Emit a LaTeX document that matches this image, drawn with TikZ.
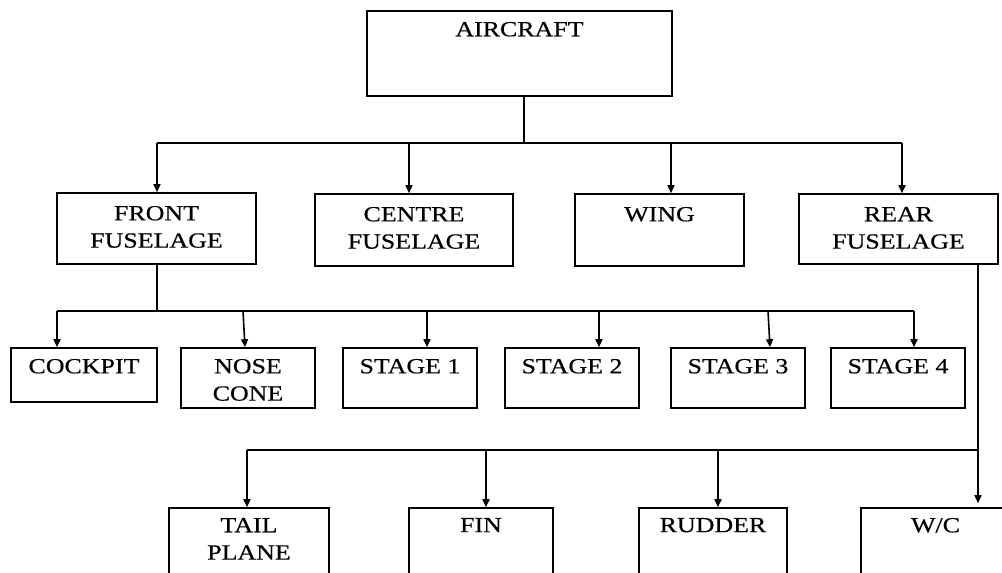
\documentclass[tikz,border=0pt]{standalone}
\usepackage{fontspec}
\setmainfont{Liberation Serif}[FakeStretch=1.2,FakeBold=0.5]
\usetikzlibrary{arrows.meta}
\begin{document}
\begin{tikzpicture}[x=1pt,y=-1pt,line width=1.6pt,
  box/.style={draw,rectangle,inner sep=0pt,line width=1.6pt},
  lbl/.style={anchor=north,inner sep=0pt,align=center,font=\fontsize{21.6}{27.3}\selectfont},
  arr/.style={-{Triangle[length=8pt,width=7pt]}}]
\useasboundingbox (0,0) rectangle (1002,573);
\clip (0,0) rectangle (1002,573);
\fill[white] (0,0) rectangle (1002,573);
% boxes
\node[box,minimum width=305pt,minimum height=85pt] (aircraft) at (519.5,53.5) {};
\node[box,minimum width=199pt,minimum height=71pt] (front) at (156.5,228.5) {};
\node[box,minimum width=198pt,minimum height=72pt] (centre) at (414,230) {};
\node[box,minimum width=169pt,minimum height=72pt] (wing) at (659.5,230) {};
\node[box,minimum width=199pt,minimum height=70pt] (rear) at (898.5,229) {};
\node[box,minimum width=146pt,minimum height=54pt] (cockpit) at (84,375) {};
\node[box,minimum width=134pt,minimum height=60pt] (nose) at (248,378) {};
\node[box,minimum width=134pt,minimum height=60pt] (s1) at (410,378) {};
\node[box,minimum width=134pt,minimum height=60pt] (s2) at (572,378) {};
\node[box,minimum width=134pt,minimum height=60pt] (s3) at (738,378) {};
\node[box,minimum width=134pt,minimum height=60pt] (s4) at (898,378) {};
\node[box,minimum width=160pt,minimum height=92pt] (tail) at (249,554) {};
\node[box,minimum width=144pt,minimum height=92pt] (fin) at (481,554) {};
\node[box,minimum width=148pt,minimum height=92pt] (rudder) at (713,554) {};
\node[box,minimum width=149pt,minimum height=92pt] (wc) at (935.5,554) {};
% labels
\node[lbl] (taircraft) at ([yshift=-11pt]aircraft.north) {AIRCRAFT};
\node[lbl] (tfront) at ([yshift=-13pt]front.north) {FRONT\\FUSELAGE};
\node[lbl] (tcentre) at ([yshift=-13pt]centre.north) {CENTRE\\FUSELAGE};
\node[lbl] (twing) at ([yshift=-13pt]wing.north) {WING};
\node[lbl] (trear) at ([yshift=-13pt]rear.north) {REAR\\FUSELAGE};
\node[lbl] (tcockpit) at ([yshift=-11pt]cockpit.north) {COCKPIT};
\node[lbl] (tnose) at ([yshift=-11pt]nose.north) {NOSE\\CONE};
\node[lbl] (ts1) at ([yshift=-11pt]s1.north) {STAGE 1};
\node[lbl] (ts2) at ([yshift=-11pt]s2.north) {STAGE 2};
\node[lbl] (ts3) at ([yshift=-11pt]s3.north) {STAGE 3};
\node[lbl] (ts4) at ([yshift=-11pt]s4.north) {STAGE 4};
\node[lbl] (ttail) at ([yshift=-10pt]tail.north) {TAIL\\PLANE};
\node[lbl] (tfin) at ([yshift=-10pt]fin.north) {FIN};
\node[lbl] (trudder) at ([yshift=-10pt]rudder.north) {RUDDER};
\node[lbl] (twc) at ([yshift=-10pt]wc.north) {W/C};
% level 1 connectors
\coordinate (j1) at (524,143);
\coordinate (a1) at (157,143);
\coordinate (a2) at (409,143);
\coordinate (a3) at (671,143);
\coordinate (a4) at (902,143);
\draw (aircraft.south -| j1) -- (j1);
\draw (a1) -- (a4);
\draw[arr] (a1) -- (a1 |- front.north);
\draw[arr] (a2) -- (a2 |- centre.north);
\draw[arr] (a3) -- (a3 |- wing.north);
\draw[arr] (a4) -- (a4 |- rear.north);
% level 2 connectors (front fuselage)
\coordinate (j2) at (157,311);
\coordinate (c1) at (57,311);
\coordinate (c2) at (243,311);
\coordinate (c3) at (427,311);
\coordinate (c4) at (599,311);
\coordinate (c5) at (768,311);
\coordinate (c6) at (914,311);
\draw (front.south -| j2) -- (j2);
\draw (c1) -- (c6);
\draw[arr] (c1) -- (c1 |- cockpit.north);
\draw[arr] (c2) -- ([xshift=2pt]c2 |- nose.north);
\draw[arr] (c3) -- (c3 |- s1.north);
\draw[arr] (c4) -- (c4 |- s2.north);
\draw[arr] (c5) -- ([xshift=2pt]c5 |- s3.north);
\draw[arr] (c6) -- (c6 |- s4.north);
% level 3 connectors (rear fuselage)
\coordinate (r) at (978,450);
\coordinate (d1) at (247,450);
\coordinate (d2) at (486,450);
\coordinate (d3) at (718,450);
\draw[arr] (rear.south -| r) -- ([yshift=4pt]r |- wc.north);
\draw (d1) -- (r);
\draw[arr] (d1) -- (d1 |- tail.north);
\draw[arr] (d2) -- (d2 |- fin.north);
\draw[arr] (d3) -- (d3 |- rudder.north);
\end{tikzpicture}
\end{document}
